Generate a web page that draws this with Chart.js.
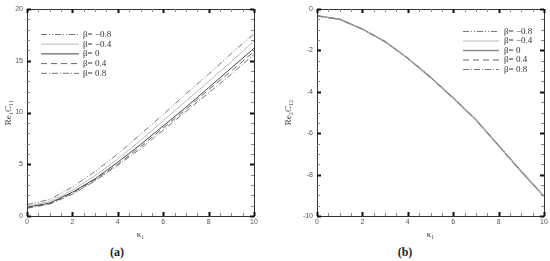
<!DOCTYPE html>
<html>
<head>
<meta charset="utf-8">
<script src="https://cdn.jsdelivr.net/npm/chart.js@4.4.1/dist/chart.umd.min.js"></script>
<style>
body { margin: 0; background: #fff; width: 550px; height: 261px; position: relative; overflow: hidden; }
.panel { position: absolute; top: 0; width: 275px; height: 240px; }
.cap { position: absolute; top: 245px; width: 40px; text-align: center; font: bold 12px "Liberation Serif", serif; color: #222; }
</style>
</head>
<body>
<div class="panel" style="left:0"><canvas id="chartA" width="275" height="240"></canvas></div>
<div class="panel" style="left:275px"><canvas id="chartB" width="275" height="240"></canvas></div>
<div class="cap" style="left:97px">(a)</div>
<div class="cap" style="left:385px">(b)</div>
<script>
var kappa = [0, 1, 2, 3, 4, 5, 6, 7, 8, 9, 10];
var betaLabels = ["β= −0.8", "β= −0.4", "β= 0", "β= 0.4", "β= 0.8"];

// Re1 C11, one row per beta
var c11m08 = [1.1, 1.6, 2.8, 4.3, 6.0, 7.9, 9.8, 11.8, 13.7, 15.7, 17.6];
var c11m04 = [0.95, 1.4, 2.5, 3.9, 5.5, 7.3, 9.2, 11.1, 13.0, 14.9, 16.9];
var c11z = [0.85, 1.25, 2.3, 3.6, 5.2, 6.9, 8.7, 10.5, 12.4, 14.3, 16.2];
var c11p04 = [0.8, 1.2, 2.2, 3.5, 5.0, 6.7, 8.5, 10.3, 12.2, 14.0, 15.9];
var c11p08 = [0.75, 1.15, 2.1, 3.4, 4.9, 6.5, 8.3, 10.1, 11.9, 13.7, 15.6];

// Re2 C12 - the five curves sit on top of each other
var c12 = [-0.33, -0.5, -0.97, -1.58, -2.38, -3.3, -4.3, -5.35, -6.6, -7.85, -9.05];

var lineStyles = [
    { color: "#777", width: 1, dash: [6, 2, 1, 2, 1, 2] },
    { color: "#bbb", width: 1, dash: [] },
    { color: "#444", width: 1, dash: [] },
    { color: "#666", width: 1, dash: [6, 4] },
    { color: "#777", width: 1, dash: [6, 2, 1, 2] }
];

const isMajor = (v, step) => Math.abs(v / step - Math.round(v / step)) < 1e-6;

const makeSets = (rows, styles) => rows.map((r, i) => ({
    label: betaLabels[i],
    data: r,
    borderColor: styles[i].color,
    borderWidth: styles[i].width,
    borderDash: styles[i].dash,
    order: styles[i].order || 0,
    pointRadius: 0,
    tension: 0,
    fill: false
}));

// box with inward ticks on all four sides, taken from the scale ticks
const frameTicks = {
    id: 'frameTicks',
    afterDatasetsDraw(chart, args, opts) {
        const { ctx, chartArea: a, scales: { x, y } } = chart;
        ctx.save();
        ctx.strokeStyle = '#333';
        ctx.lineWidth = 1;
        ctx.strokeRect(a.left + 0.5, a.top + 0.5, a.right - a.left, a.bottom - a.top);
        x.ticks.forEach(t => {
            const px = Math.round(x.getPixelForValue(t.value)) + 0.5;
            const major = isMajor(t.value, opts.xMajor);
            const len = major ? 4 : 3;
            ctx.lineWidth = major ? 2 : 1;
            ctx.strokeStyle = major ? '#111' : '#888';
            ctx.beginPath();
            ctx.moveTo(px, a.bottom); ctx.lineTo(px, a.bottom - len);
            ctx.moveTo(px, a.top); ctx.lineTo(px, a.top + len);
            ctx.stroke();
        });
        y.ticks.forEach(t => {
            const py = Math.round(y.getPixelForValue(t.value)) + 0.5;
            const major = isMajor(t.value, opts.yMajor);
            const len = major ? 4 : 3;
            ctx.lineWidth = major ? 2 : 1;
            ctx.strokeStyle = major ? '#111' : '#888';
            ctx.beginPath();
            ctx.moveTo(a.left, py); ctx.lineTo(a.left + len, py);
            ctx.moveTo(a.right, py); ctx.lineTo(a.right - len, py);
            ctx.stroke();
        });
        ctx.restore();
    }
};

// small legend drawn with each dataset's own line style
const betaLegend = {
    id: 'betaLegend',
    afterDraw(chart, args, opts) {
        const ctx = chart.ctx;
        ctx.save();
        ctx.font = '9px "Liberation Serif", serif';
        ctx.fillStyle = '#333';
        ctx.textBaseline = 'middle';
        chart.data.datasets.forEach((ds, i) => {
            const yy = opts.y + i * opts.row + 0.5;
            ctx.strokeStyle = ds.borderColor;
            ctx.lineWidth = ds.borderWidth;
            ctx.setLineDash(ds.borderDash);
            ctx.beginPath();
            ctx.moveTo(opts.x, yy);
            ctx.lineTo(opts.x + opts.len, yy);
            ctx.stroke();
            ctx.fillText(ds.label, opts.x + opts.len + opts.gap, yy);
        });
        ctx.restore();
    }
};

const tickFont = { family: 'Liberation Sans, Arial, sans-serif', size: 7 };

const makeChart = (id, sets, yMin, yMax, yStep, yMajor, yTitle, pad, yWidth, legendPos) => new Chart(id, {
    type: 'line',
    data: { labels: kappa, datasets: sets },
    options: {
        responsive: false,
        animation: false,
        layout: { padding: pad },
        plugins: {
            legend: { display: false },
            tooltip: { enabled: false },
            frameTicks: { xMajor: 2, yMajor: yMajor },
            betaLegend: legendPos
        },
        scales: {
            x: {
                type: 'linear',
                min: 0, max: 10,
                grid: { display: false, drawTicks: false },
                border: { display: false },
                ticks: {
                    stepSize: 0.5, autoSkip: false, maxRotation: 0, padding: 2,
                    color: '#555', font: tickFont,
                    callback: v => isMajor(v, 2) ? v : ''
                },
                title: { display: true, text: 'κ₁', color: '#333', padding: { top: 2, bottom: 0 },
                    font: { family: 'Liberation Serif, serif', size: 9 } },
                afterFit: s => { s.height = 24; }
            },
            y: {
                min: yMin, max: yMax,
                grid: { display: false, drawTicks: false },
                border: { display: false },
                ticks: {
                    stepSize: yStep, autoSkip: false, padding: 4,
                    color: '#555', font: tickFont,
                    callback: v => isMajor(v, yMajor) ? v : ''
                },
                title: { display: true, text: yTitle, color: '#333', padding: { top: 3, bottom: 0 },
                    font: { family: 'Liberation Serif, serif', size: 9 } },
                afterFit: s => { s.width = yWidth; }
            }
        }
    },
    plugins: [frameTicks, betaLegend]
});

makeChart('chartA', makeSets([c11m08, c11m04, c11z, c11p04, c11p08], lineStyles),
    0, 20, 1, 5, 'Re₁C₁₁', { top: 9, right: 21, left: 0, bottom: 0 }, 27,
    { x: 41, y: 34, row: 9.7, len: 38, gap: 4 });

// in (b) the thick light beta=0 curve sits underneath the others
var lineStylesB = lineStyles.map((s, i) => i === 2 ? { color: '#8c8c8c', width: 1.5, dash: [], order: 1 } : s);
makeChart('chartB', makeSets([c12, c12, c12, c12, c12], lineStylesB),
    -10, 0, 0.5, 2, 'Re₂C₁₂', { top: 9, right: 6, left: 5, bottom: 0 }, 37,
    { x: 188, y: 31, row: 9.5, len: 36, gap: 5 });
</script>
</body>
</html>
